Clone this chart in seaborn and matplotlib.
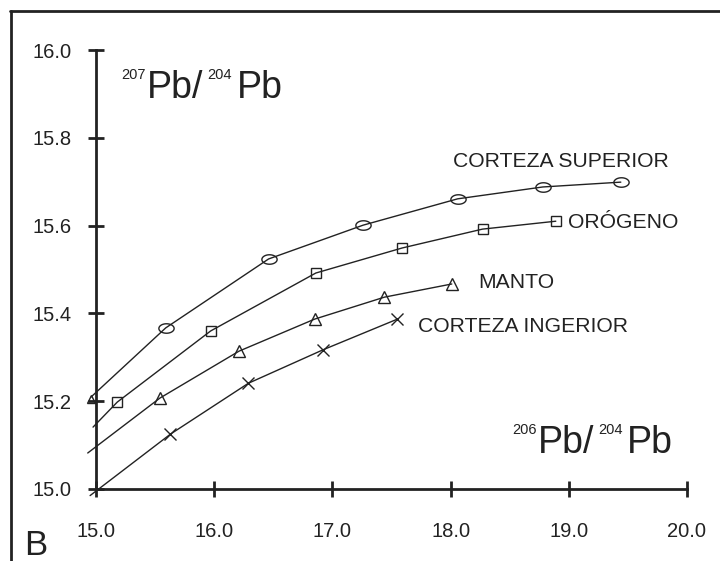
import numpy as np
import pandas as pd
import matplotlib
matplotlib.use("Agg")
import matplotlib.pyplot as plt
import seaborn as sns
from matplotlib.path import Path
from matplotlib.lines import Line2D

# ---------------- data ----------------
sup_x = [14.96, 15.59, 16.46, 17.26, 18.06, 18.78, 19.44]
sup_y = [15.21, 15.367, 15.524, 15.601, 15.661, 15.688, 15.699]

oro_x = [14.975, 15.18, 15.97, 16.86, 17.59, 18.27, 18.89]
oro_y = [15.141, 15.198, 15.36, 15.492, 15.549, 15.592, 15.61]

man_x = [14.93, 15.54, 16.21, 16.85, 17.44, 18.01]
man_y = [15.082, 15.207, 15.314, 15.387, 15.437, 15.467]

inf_x = [14.95, 15.63, 16.29, 16.92, 17.55]
inf_y = [14.985, 15.125, 15.241, 15.317, 15.387]

series_names = ["CORTEZA SUPERIOR", "ORÓGENO", "MANTO", "CORTEZA INGERIOR"]
label_x = [18.02, 18.99, 18.23, 17.72]
label_y = [15.733, 15.595, 15.458, 15.358]

x_ticks = [15.0, 16.0, 17.0, 18.0, 19.0, 20.0]
y_ticks = [15.0, 15.2, 15.4, 15.6, 15.8, 16.0]

# ---------------- style ----------------
sns.set_theme(style="white")
plt.rcParams["font.family"] = ["Liberation Sans", "DejaVu Sans"]

fig = plt.figure(figsize=(7.2, 5.61), dpi=100)
ax = fig.add_axes([96 / 720, 1 - 489 / 561, (687 - 96) / 720, (489 - 50) / 561])

col = "#222222"
theta = np.linspace(0, 2 * np.pi, 40)
ellipse = Path(np.column_stack([np.cos(theta), 0.62 * np.sin(theta)]), closed=True)

specs = [
    (sup_x, sup_y, ellipse, 11),
    (oro_x, oro_y, "s", 7),
    (man_x, man_y, "^", 8),
    (inf_x, inf_y, "x", 8),
]

for (xs, ys, mk, ms), name in zip(specs, series_names):
    df = pd.DataFrame({"x": xs, "y": ys})
    sns.lineplot(data=df, x="x", y="y", sort=False, estimator=None, ax=ax,
                 color=col, linewidth=1.0, marker=mk, markersize=ms,
                 markerfacecolor="none", markeredgecolor=col, markeredgewidth=1.0,
                 markevery=list(range(1, len(xs))), clip_on=False)

# small triangle at start of upper curve
ax.plot([sup_x[0]], [sup_y[0] - 0.006], marker="^", markersize=6, color=col,
        markerfacecolor="none", markeredgewidth=1.0, clip_on=False)

for name, lx, ly in zip(series_names, label_x, label_y):
    ax.text(lx, ly, name, fontsize=15.2, color=col, va="baseline", ha="left")

ax.set_xlim(15, 20)
ax.set_ylim(15, 16)
ax.set_xticks(x_ticks)
ax.set_yticks(y_ticks)
ax.set_xticklabels([f"{v:.1f}" for v in x_ticks])
ax.set_yticklabels([f"{v:.1f}" for v in y_ticks])
ax.set_xlabel("")
ax.set_ylabel("")
for s in ["top", "right"]:
    ax.spines[s].set_visible(False)
for s in ["left", "bottom"]:
    ax.spines[s].set_linewidth(2.0)
    ax.spines[s].set_color(col)
    ax.spines[s].set_zorder(0.5)
ax.tick_params(axis="both", direction="inout", length=11, width=2.0, color=col,
               labelsize=14.5, labelcolor=col)
ax.tick_params(axis="y", pad=12, left=True)
ax.tick_params(axis="x", pad=18, bottom=True)
ax.set_facecolor("none")

# ---------------- isotope axis titles ----------------
fig.canvas.draw()
renderer = fig.canvas.get_renderer()


def chain(x0, y0, pieces):
    """pieces: list of (text, fontsize, dy_px, gap_px) drawn left to right in pixels"""
    x = x0
    for txt, fs, dy, gap in pieces:
        x += gap
        t = fig.text(x / 720, 1 - (y0 - dy) / 561, txt, fontsize=fs, color=col,
                     va="baseline", ha="left", transform=fig.transFigure)
        bb = t.get_window_extent(renderer)
        x += bb.width


chain(121, 98, [("207", 10.5, 19, 0), ("Pb/", 27, 0, 1), ("204", 10.5, 19, 4),
                ("Pb", 27, 0, 5)])
chain(512, 453, [("206", 10.5, 19, 0), ("Pb/", 27, 0, 1), ("204", 10.5, 19, 4),
                 ("Pb", 27, 0, 5)])

fig.text(24 / 720, 1 - 555 / 561, "B", fontsize=25, color=col, va="baseline", ha="left")

# frame (left and top edges visible)
fig.add_artist(Line2D([11 / 720, 11 / 720], [0, 1 - 11 / 561], transform=fig.transFigure,
                      color=col, linewidth=2.0))
fig.add_artist(Line2D([10 / 720, 1], [1 - 11 / 561, 1 - 11 / 561], transform=fig.transFigure,
                      color=col, linewidth=2.0))

fig.savefig("out.png", dpi=100)
